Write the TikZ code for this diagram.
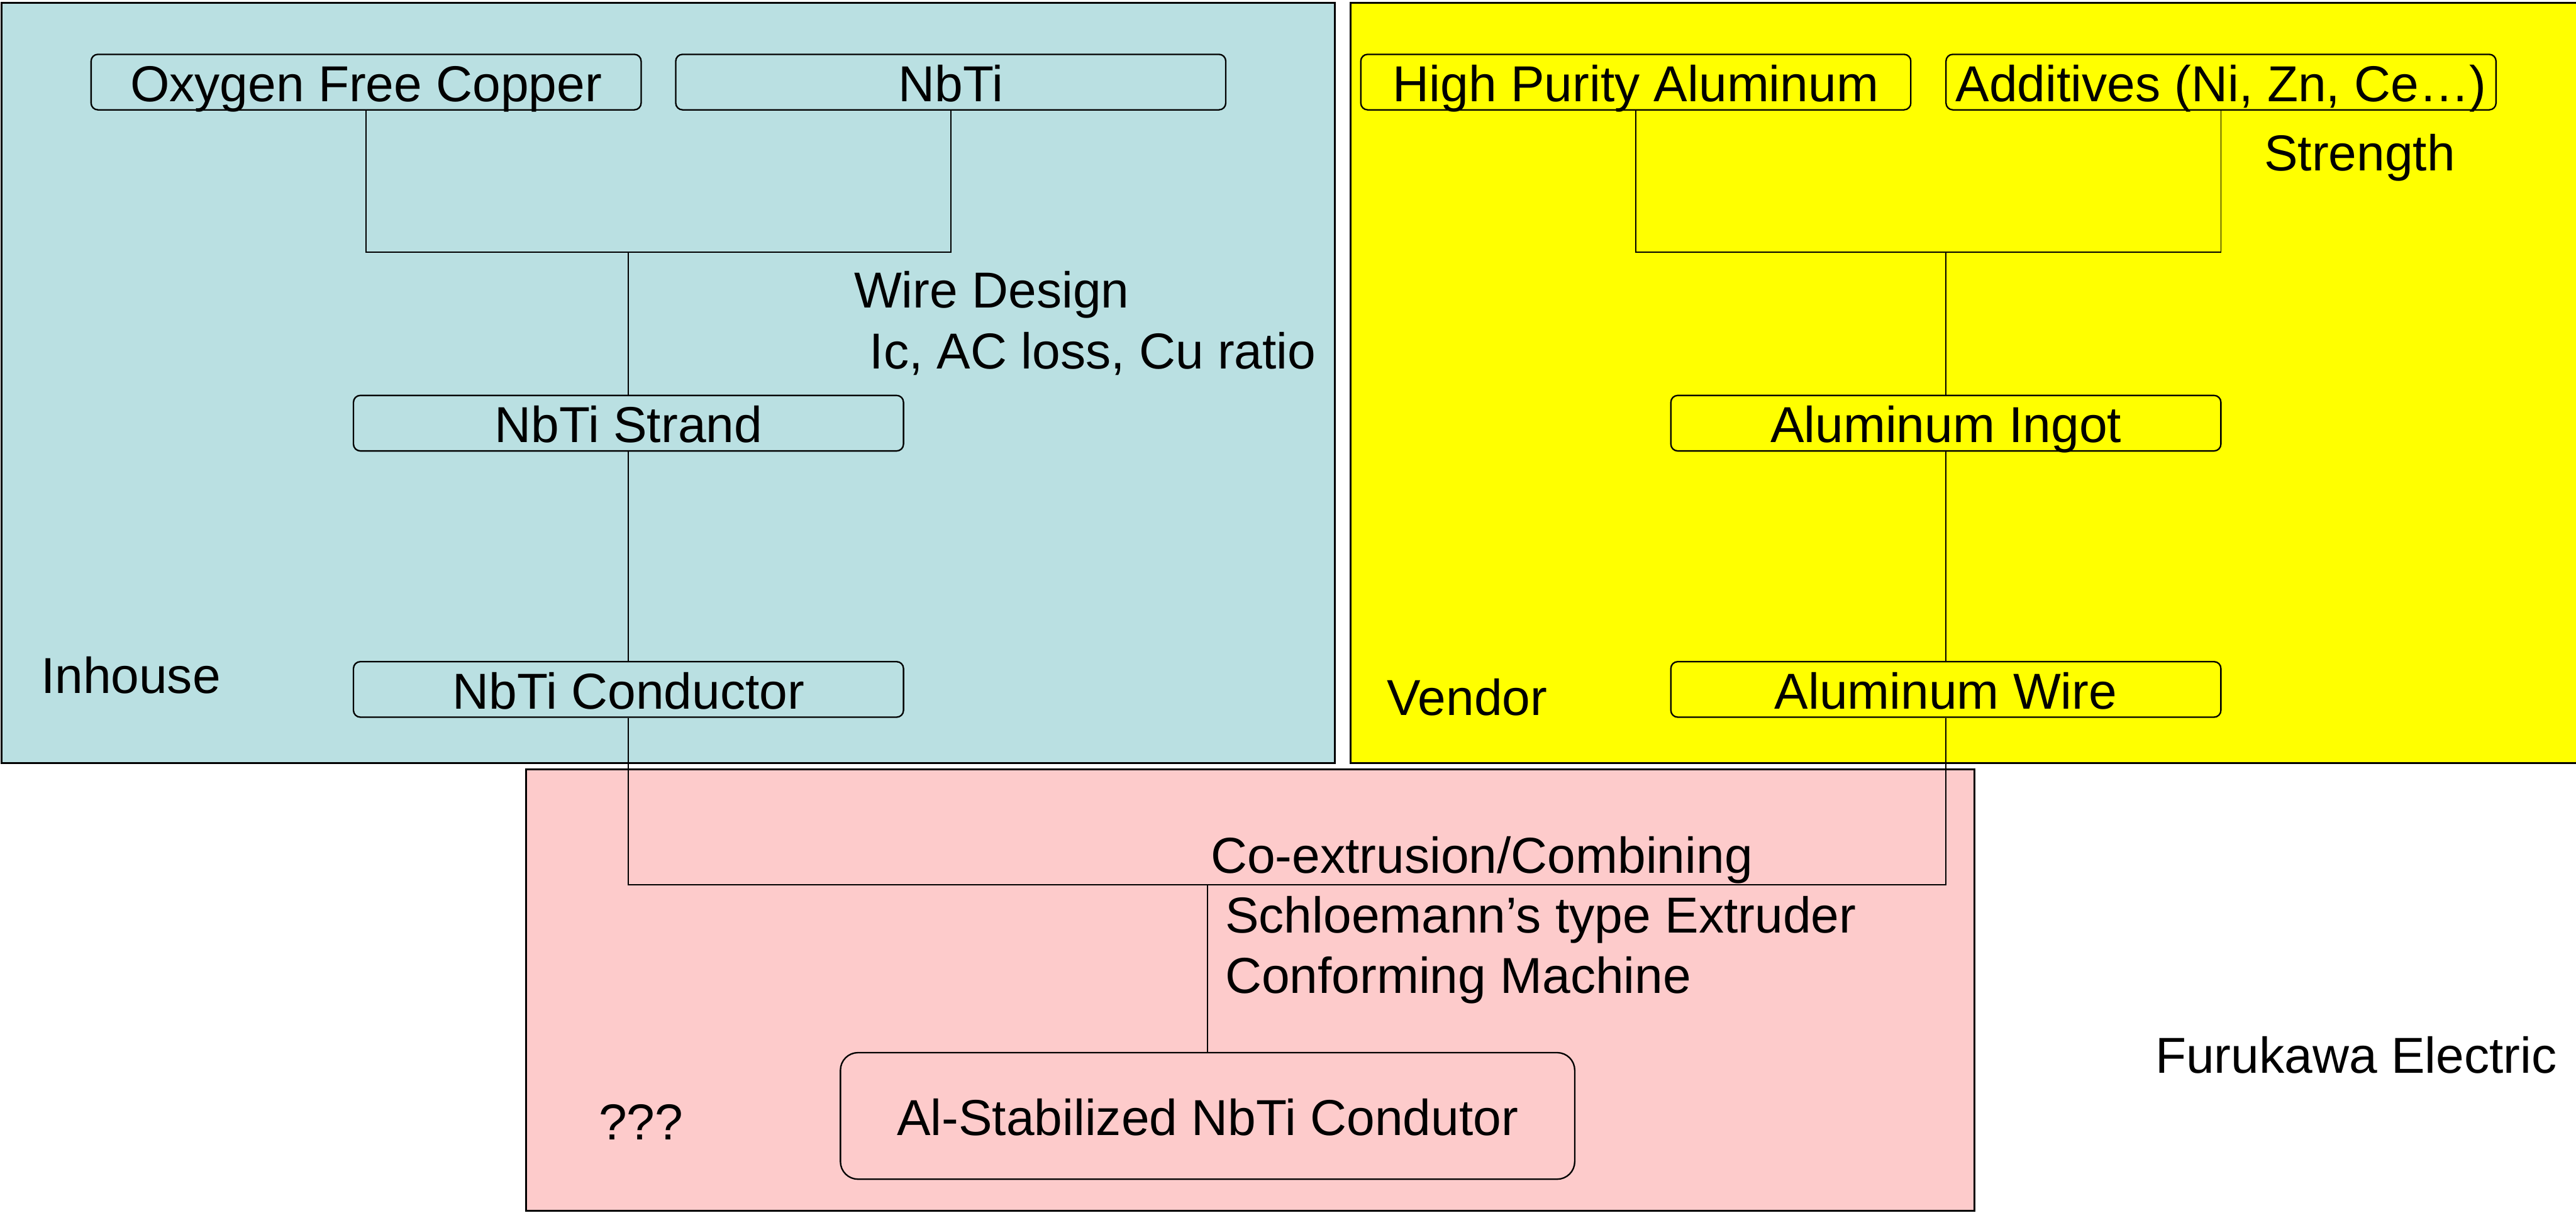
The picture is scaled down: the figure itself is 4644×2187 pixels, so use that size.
\documentclass[tikz,border=0pt]{standalone}
\usepackage{fontspec}
\setmainfont{Liberation Sans}
\definecolor{inhouseblue}{RGB}{186,224,226}
\definecolor{vendoryellow}{RGB}{255,255,0}
\definecolor{combinepink}{RGB}{253,203,203}

\begin{document}
\begin{tikzpicture}[
x=0.01cm, y=-0.01cm,
font=\fontsize{25.9}{31}\selectfont,
areabox/.style={draw=black, line width=0.95pt},
procnode/.style={rectangle, draw=black, line width=0.75pt, rounded corners=3.5pt, minimum width=9.91cm, minimum height=1cm, inner sep=0pt, text height=0.7cm, text depth=0pt},
finalnode/.style={rectangle, draw=black, line width=0.75pt, rounded corners=9pt, minimum width=13.23cm, minimum height=2.28cm, inner sep=0pt, text height=0.7cm, text depth=0pt},
note/.style={anchor=base west, inner sep=0pt},
link/.style={-, line width=0.6pt},
]
\useasboundingbox (0,0) rectangle (4644,2187);

% background areas
\fill[inhouseblue] (3,5) rectangle (2406,1376);
\draw[areabox] (3,5) rectangle (2406,1376);
\fill[vendoryellow] (2435,5) rectangle (4660,1376);
\draw[areabox] (2435,5) rectangle (4660,1376);
\fill[combinepink] (948,1387) rectangle (3560,2183);
\draw[areabox] (948,1387) rectangle (3560,2183);

% inhouse side
\node[procnode] at(660,148) (Copper) {Oxygen Free Copper};
\node[procnode] at(1714,148) (NbTi) {NbTi};
\node[procnode] at(1133,763) (Strand) {NbTi Strand};
\node[procnode] at(1133,1243) (Conductor) {NbTi Conductor};
\coordinate (JoinNbTi) at (1133,455);

% vendor side
\node[procnode] at(2949,148) (PureAl) {High Purity Aluminum};
\node[procnode] at(4004,148) (Additives) {Additives (Ni, Zn, Ce\dots)};
\node[procnode] at(3508,763) (Ingot) {Aluminum Ingot};
\node[procnode] at(3508,1243) (AlWire) {Aluminum Wire};
\coordinate (JoinAl) at (3508,455);

% combined product
\node[finalnode] at(2177,2012) (StabCond) {Al-Stabilized NbTi Condutor};
\coordinate (JoinAll) at (2177,1595);

\draw[link] (Copper.south) |- (JoinNbTi) -| (NbTi.south);
\draw[link] (JoinNbTi) -- (Strand.north);
\draw[link] (Strand.south) -- (Conductor.north);
\draw[link] (PureAl.south) |- (JoinAl) -| (Additives.south);
\draw[link] (JoinAl) -- (Ingot.north);
\draw[link] (Ingot.south) -- (AlWire.north);
\draw[link] (Conductor.south) |- (JoinAll) -| (AlWire.south);
\draw[link] (JoinAll) -- (StabCond.north);

% notes
\node[note] at(1539,555) (WireDesign) {Wire Design};
\node[note] at(1567,665) (WireSpec) {Ic, AC loss, Cu ratio};
\node[note] at(73,1250) (Inhouse) {Inhouse};
\node[note] at(4081,308) (Strength) {Strength};
\node[note] at(2500,1290) (Vendor) {Vendor};
\node[note] at(2182,1574) (CoExtrusion) {Co-extrusion/Combining};
\node[note] at(2208,1682) (Extruder) {Schloemann’s type Extruder};
\node[note] at(2208,1791) (Conforming) {Conforming Machine};
\node[note] at(1079,2055) (Unknown) {???};
\node[note] at(3885,1935) (Furukawa) {Furukawa Electric};

\end{tikzpicture}
\end{document}
